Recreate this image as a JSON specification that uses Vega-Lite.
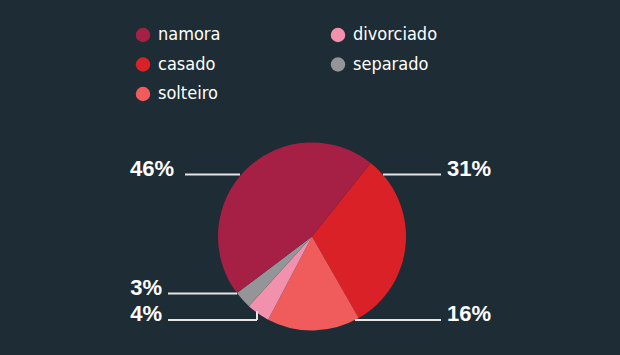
{
  "$schema": "https://vega.github.io/schema/vega-lite/v6.json",
  "width": 620,
  "height": 355,
  "autosize": {"type": "none"},
  "padding": 0,
  "background": "#1e2c35",
  "config": {"view": {"stroke": null}, "font": "Liberation Sans"},
  "datasets": {
    "estados": [
      {"estado": "casado", "pct": 31, "ordem": 1},
      {"estado": "solteiro", "pct": 16, "ordem": 2},
      {"estado": "divorciado", "pct": 4, "ordem": 3},
      {"estado": "separado", "pct": 3, "ordem": 4},
      {"estado": "namora", "pct": 46, "ordem": 5}
    ],
    "linhas": [
      {"x1": 185, "x2": 240, "y1": 174.5, "y2": 174.5},
      {"x1": 383, "x2": 441, "y1": 174.5, "y2": 174.5},
      {"x1": 168, "x2": 237, "y1": 293.5, "y2": 293.5},
      {"x1": 168, "x2": 257, "y1": 320, "y2": 320},
      {"x1": 257, "x2": 257, "y1": 311, "y2": 320},
      {"x1": 355, "x2": 441, "y1": 320, "y2": 320}
    ],
    "rotulos": [
      {"texto": "46%", "lado": "esquerda", "x": 174, "y": 175.5},
      {"texto": "31%", "lado": "direita", "x": 447, "y": 175.5},
      {"texto": "3%", "lado": "esquerda", "x": 162, "y": 295},
      {"texto": "4%", "lado": "esquerda", "x": 162, "y": 321},
      {"texto": "16%", "lado": "direita", "x": 447, "y": 321}
    ]
  },
  "layer": [
    {
      "data": {"name": "estados"},
      "mark": {"type": "arc", "outerRadius": 94},
      "encoding": {
        "x": {"datum": 312, "type": "quantitative", "scale": {"domain": [0, 620], "nice": false, "zero": false}, "axis": null},
        "y": {"datum": 236.5, "type": "quantitative", "scale": {"domain": [0, 355], "nice": false, "zero": false, "reverse": true}, "axis": null},
        "theta": {"field": "pct", "type": "quantitative", "stack": true, "scale": {"range": [0.6737, 6.9569]}},
        "order": {"field": "ordem", "type": "quantitative"},
        "color": {
          "field": "estado",
          "type": "nominal",
          "scale": {
            "domain": ["namora", "casado", "solteiro", "divorciado", "separado"],
            "range": ["#a62045", "#da2128", "#f05b5c", "#f291ae", "#939598"]
          },
          "legend": {
            "title": null,
            "orient": "none",
            "legendX": 134,
            "legendY": 26,
            "columns": 2,
            "columnPadding": 108,
            "rowPadding": 11.5,
            "symbolType": "circle",
            "symbolSize": 210,
            "symbolStrokeWidth": 0,
            "symbolOpacity": 1,
            "labelFontSize": 18,
            "labelColor": "#ffffff",
            "labelOffset": 6,
            "labelFont": "DejaVu Sans Condensed, Roboto, sans-serif"
          }
        }
      }
    },
    {
      "data": {"name": "linhas"},
      "mark": {"type": "rule", "color": "#e6e6e6", "strokeWidth": 2},
      "encoding": {
        "x": {"field": "x1", "type": "quantitative"},
        "x2": {"field": "x2"},
        "y": {"field": "y1", "type": "quantitative"},
        "y2": {"field": "y2"}
      }
    },
    {
      "data": {"name": "rotulos"},
      "transform": [{"filter": "datum.lado == 'esquerda'"}],
      "mark": {"type": "text", "align": "right", "baseline": "alphabetic", "fontSize": 22, "fontWeight": "bold", "color": "#ffffff"},
      "encoding": {
        "x": {"field": "x", "type": "quantitative"},
        "y": {"field": "y", "type": "quantitative"},
        "text": {"field": "texto"}
      }
    },
    {
      "data": {"name": "rotulos"},
      "transform": [{"filter": "datum.lado == 'direita'"}],
      "mark": {"type": "text", "align": "left", "baseline": "alphabetic", "fontSize": 22, "fontWeight": "bold", "color": "#ffffff"},
      "encoding": {
        "x": {"field": "x", "type": "quantitative"},
        "y": {"field": "y", "type": "quantitative"},
        "text": {"field": "texto"}
      }
    }
  ]
}
